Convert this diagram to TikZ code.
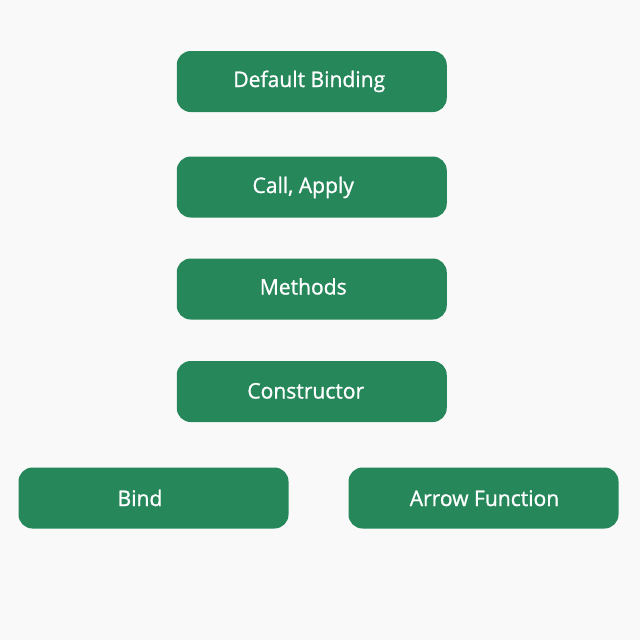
\documentclass[tikz,border=0pt]{standalone}
\usepackage{fontspec}
\setmainfont{Open Sans}
\newfontfamily\boxfont{Open Sans}[FakeBold=1.0,FakeStretch=0.98]
\definecolor{boxgreen}{HTML}{25875A}
\definecolor{bgcol}{HTML}{F9F9F9}
\begin{document}
\begin{tikzpicture}[x=1pt,y=-1pt,
  box/.style={fill=boxgreen, draw=none, rounded corners=14pt, minimum width=270pt, minimum height=61pt, inner sep=0pt},
  lbl/.style={text=white, font=\boxfont\fontsize{21.5}{25}\selectfont, inner sep=0pt, anchor=base}]
\fill[bgcol] (0,0) rectangle (640,640);
\useasboundingbox (0,0) rectangle (640,640);
\node[box] (default) at (311.75,81.5) {};
\node[box] (call) at (311.75,187) {};
\node[box] (methods) at (311.75,289) {};
\node[box] (ctor) at (311.75,391.5) {};
\node[box] (bind) at (153.5,498) {};
\node[box] (arrow) at (483.5,498) {};
\node[lbl] (default-l) at ([xshift=-2.5pt,yshift=-5.5pt]default.center) {Default Binding};
\node[lbl] (call-l) at ([xshift=-8.5pt,yshift=-6pt]call.center) {Call, Apply};
\node[lbl] (methods-l) at ([xshift=-8.5pt,yshift=-5.5pt]methods.center) {Methods};
\node[lbl] (ctor-l) at ([xshift=-6pt,yshift=-7pt]ctor.center) {Constructor};
\node[lbl] (bind-l) at ([xshift=-13.5pt,yshift=-8pt]bind.center) {Bind};
\node[lbl] (arrow-l) at ([xshift=1pt,yshift=-8pt]arrow.center) {Arrow Function};
\end{tikzpicture}
\end{document}
